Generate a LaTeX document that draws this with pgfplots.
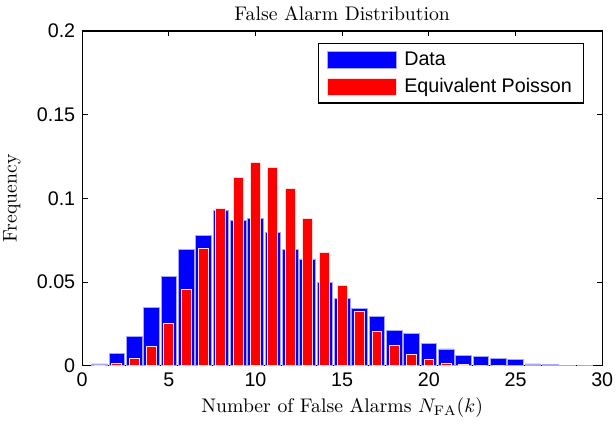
\documentclass[border=0pt]{standalone}
\usepackage{fontspec}
\usepackage{pgfplots}
\pgfplotsset{compat=1.18}
\newfontfamily\arial{Liberation Sans}
\begin{document}
\begin{tikzpicture}
\begin{axis}[
  scale only axis, width=264pt, height=170pt,
  xmin=0, xmax=30, ymin=0, ymax=0.2,
  xtick={0,5,10,15,20,25,30}, xticklabels={0,5,10,15,20,25,30},
  ytick={0,0.05,0.1,0.15,0.2}, yticklabels={0,0.05,0.1,0.15,0.2},
  tick align=inside, xtick pos=both, ytick pos=both,
  major tick length=2.8pt,
  tick label style={font=\arial},
  axis line style={line width=0.6pt},
  every tick/.style={black, line width=0.6pt},
  title={False Alarm Distribution},
  title style={at={(axis description cs:0.5,1.051)}, anchor=center, yshift=0pt},
  every axis title shift=0pt,
  xlabel={Number of False Alarms $N_{\mathrm{FA}}(k)$},
  xlabel style={at={(axis description cs:0.5,-0.125)}, anchor=center},
  ylabel={Frequency},
  ylabel style={at={(axis description cs:-0.135,0.5)}, anchor=center},
  legend cell align=left,
  legend style={at={(axis description cs:0.9655,0.964)}, anchor=north east,
    draw=black, line width=0.6pt, font=\arial, inner xsep=4pt, inner ysep=2pt,
    row sep=1pt},
  legend image code/.code={\draw[#1,line width=0.3pt] (0pt,-4.3pt) rectangle (35pt,4.3pt); \path (37pt,0pt);},
]
\addplot[ybar, bar width=0.9, bar shift=0pt, fill=blue, draw=blue!35!white, line width=0.4pt]
  coordinates {
  (1,0.0011) (2,0.0072) (3,0.0177) (4,0.0346) (5,0.0535) (6,0.0697) (7,0.078)
  (8,0.093) (9,0.087) (10,0.088) (11,0.0794) (12,0.0697) (13,0.0638) (14,0.050)
  (15,0.0404) (16,0.034) (17,0.0295) (18,0.0209) (19,0.0195) (20,0.0131)
  (21,0.0101) (22,0.0064) (23,0.0054) (24,0.0046) (25,0.0036) (26,0.0011)
  (27,0.0008) (28,0.0003) (29,0.0002)};
\addlegendentry{Data}
\addplot[ybar, bar width=0.56, bar shift=0pt, fill=red, draw=red!15!white, line width=0.5pt]
  coordinates {
  (1,0.0002) (2,0.0012) (3,0.0042) (4,0.0118) (5,0.0253) (6,0.0458) (7,0.0703)
  (8,0.094) (9,0.1125) (10,0.1212) (11,0.1184) (12,0.106) (13,0.0879) (14,0.0676)
  (15,0.048) (16,0.0327) (17,0.0207) (18,0.0119) (19,0.0068) (20,0.0036)
  (21,0.0016) (22,0.0008) (23,0.0003) (24,0.0001)};
\addlegendentry{Equivalent Poisson}
\end{axis}
\pgfresetboundingbox
\path ([shift={(-41.7pt,-33.5pt)}]current axis.south west) rectangle ([shift={(7pt,15.7pt)}]current axis.north east);
\end{tikzpicture}
\end{document}
